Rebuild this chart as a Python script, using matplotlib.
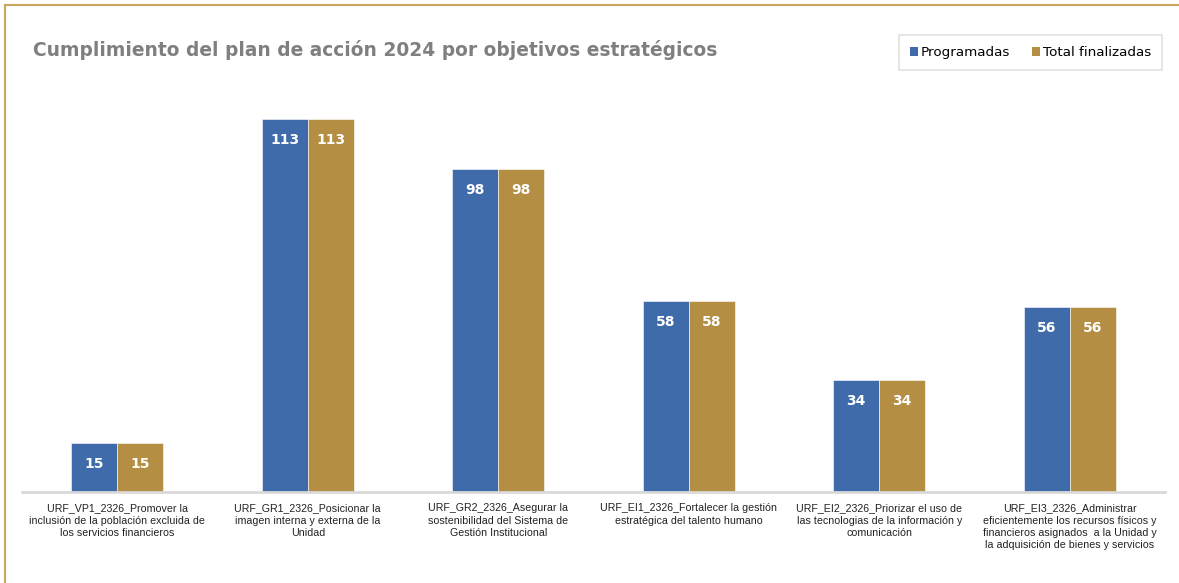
import matplotlib
matplotlib.use("Agg")
import matplotlib.pyplot as plt
import numpy as np
from matplotlib.lines import Line2D
from matplotlib.patches import Patch

categories = [
    "URF_VP1_2326_Promover la\ninclusión de la población excluida de\nlos servicios financieros",
    "URF_GR1_2326_Posicionar la\nimagen interna y externa de la\nUnidad",
    "URF_GR2_2326_Asegurar la\nsostenibilidad del Sistema de\nGestión Institucional",
    "URF_EI1_2326_Fortalecer la gestión\nestratégica del talento humano",
    "URF_EI2_2326_Priorizar el uso de\nlas tecnologias de la información y\ncomunicación",
    "URF_EI3_2326_Administrar\neficientemente los recursos físicos y\nfinancieros asignados  a la Unidad y\nla adquisición de bienes y servicios",
]
programadas = [15, 113, 98, 58, 34, 56]
finalizadas = [15, 113, 98, 58, 34, 56]
series_names = ["Programadas", "Total finalizadas"]
title = "Cumplimiento del plan de acción 2024 por objetivos estratégicos"

BLUE = "#406BAA"
GOLD = "#B48E42"

W, H = 1179, 583
fig = plt.figure(figsize=(W / 100, H / 100), dpi=100)
fig.patch.set_facecolor("white")

# outer frame (left and top visible)
fig.add_artist(Line2D([5 / W, 5 / W], [0, 1 - 5 / H], color="#C9A560", lw=1.5, transform=fig.transFigure))
fig.add_artist(Line2D([5 / W, 1], [1 - 5 / H, 1 - 5 / H], color="#C9A560", lw=1.5, transform=fig.transFigure))

ax = fig.add_axes([22 / W, (H - 492) / H, (1165 - 22) / W, (492 - 96) / H])
x = np.arange(len(categories))
bw = 0.242
b1 = ax.bar(x - bw / 2, programadas, bw, color=BLUE, edgecolor="white", linewidth=0.4, label=series_names[0])
b2 = ax.bar(x + bw / 2, finalizadas, bw, color=GOLD, edgecolor="white", linewidth=0.4, label=series_names[1])

for bars, vals in ((b1, programadas), (b2, finalizadas)):
    for r, v in zip(bars, vals):
        ax.annotate(str(v), (r.get_x() + r.get_width() / 2, r.get_height()),
                    xytext=(0, -21), textcoords="offset pixels",
                    ha="center", va="center", color="white", fontweight="bold",
                    fontsize=10, family="DejaVu Sans")

ax.set_xlim(-0.5, len(categories) - 0.5)
ax.set_ylim(0, 120)
ax.set_yticks([])
ax.set_xticks(x)
ax.set_xticklabels(categories, fontsize=7.7, family="Liberation Sans", color="#222222", linespacing=1.3)
ax.tick_params(axis="x", length=0, pad=8)
for s in ("top", "right", "left"):
    ax.spines[s].set_visible(False)
ax.spines["bottom"].set_color("#D9D9D9")
ax.spines["bottom"].set_linewidth(2)

fig.text(33 / W, 1 - 50 / H, title, fontsize=13.4, fontweight="bold", color="#7F7F7F",
         family="DejaVu Sans", ha="left", va="center")

handles = [Patch(facecolor=BLUE, label=series_names[0]), Patch(facecolor=GOLD, label=series_names[1])]
leg = fig.legend(handles=handles, loc="center", bbox_to_anchor=(1030.5 / W, 1 - 52.5 / H), ncol=2,
                 frameon=True, fancybox=False, edgecolor="#D9D9D9",
                 handlelength=0.6, handleheight=0.6, handletextpad=0.2, columnspacing=1.6,
                 borderpad=0.85, prop={"family": "DejaVu Sans", "size": 9.7})
leg.get_frame().set_linewidth(1.2)

fig.savefig("out.png", dpi=100, facecolor="white")
